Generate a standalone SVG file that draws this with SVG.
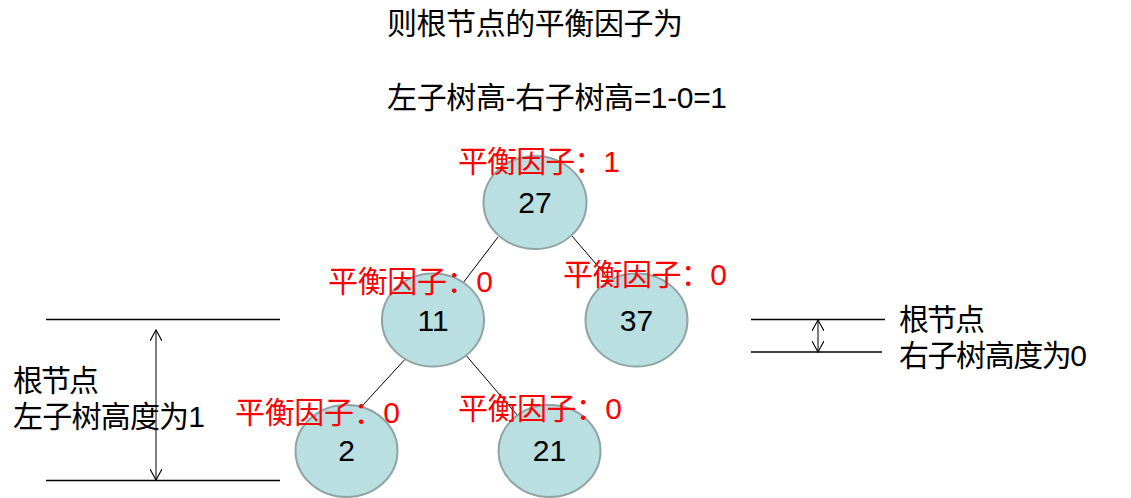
<svg xmlns="http://www.w3.org/2000/svg" width="1131" height="498" viewBox="0 0 1131 498">
<style>
text{font-family:"Liberation Sans","Noto Sans CJK SC",sans-serif;}
.t{font-size:30px;fill:#000;}
.bf{font-size:30px;fill:#ff0000;}
.num{font-size:30px;fill:#000;text-anchor:middle;}
.node ellipse{fill:#b9dfe1;stroke:#8fa3a4;stroke-width:2;}
.edge{stroke:#000;stroke-width:1;fill:none;}
.rule{stroke:#000;stroke-width:1.3;fill:none;}
</style>
<defs>
<marker id="ah" viewBox="0 0 12 12" refX="11" refY="6" markerWidth="12" markerHeight="12" markerUnits="userSpaceOnUse" orient="auto-start-reverse">
<path d="M0,0 L11,6 L0,12" fill="none" stroke="#000" stroke-width="1.1"/>
</marker>
</defs>
<rect width="1131" height="498" fill="#fff"/>
<g id="title">
<text class="t" x="387" y="34" textLength="296" lengthAdjust="spacing">则根节点的平衡因子为</text>
<text class="t" x="387" y="108" textLength="340" lengthAdjust="spacing">左子树高-右子树高=1-0=1</text>
</g>
<g id="connectors">
<line class="edge" x1="498" y1="237" x2="463" y2="283"/>
<line class="edge" x1="572" y1="236" x2="614" y2="285"/>
<line class="edge" x1="408" y1="356" x2="363" y2="405"/>
<line class="edge" x1="464" y1="353" x2="518" y2="416"/>
</g>
<g id="node-27" class="node">
<ellipse cx="535" cy="202.5" rx="51.5" ry="46.5"/>
<text class="num" x="535" y="213">27</text>
</g>
<g id="node-11" class="node">
<ellipse cx="433" cy="320" rx="51" ry="46.5"/>
<text class="num" x="433" y="331">11</text>
</g>
<g id="node-37" class="node">
<ellipse cx="636.5" cy="320" rx="51" ry="46.5"/>
<text class="num" x="636.5" y="331">37</text>
</g>
<g id="node-2" class="node">
<ellipse cx="346.5" cy="451" rx="51" ry="46"/>
<text class="num" x="346.5" y="461">2</text>
</g>
<g id="node-21" class="node">
<ellipse cx="549.5" cy="451" rx="51" ry="46"/>
<text class="num" x="549.5" y="461">21</text>
</g>
<g id="labels">
<text class="bf" x="458" y="172" textLength="162" lengthAdjust="spacing">平衡因子：1</text>
<text class="bf" x="328" y="292" textLength="165" lengthAdjust="spacing">平衡因子：0</text>
<text class="bf" x="563" y="285" textLength="164" lengthAdjust="spacing">平衡因子：0</text>
<text class="bf" x="235" y="423" textLength="165" lengthAdjust="spacing">平衡因子：0</text>
<text class="bf" x="458" y="419" textLength="164" lengthAdjust="spacing">平衡因子：0</text>
</g>
<g id="left-height">
<line class="rule" x1="46" y1="319.5" x2="280" y2="319.5"/>
<line class="rule" x1="46" y1="480.5" x2="280" y2="480.5"/>
<line class="edge" x1="156" y1="330" x2="156" y2="480" marker-start="url(#ah)" marker-end="url(#ah)"/>
<text class="t" x="13" y="391" textLength="86" lengthAdjust="spacing">根节点</text>
<text class="t" x="13" y="427" textLength="192" lengthAdjust="spacing">左子树高度为1</text>
</g>
<g id="right-height">
<line class="rule" x1="751" y1="319.5" x2="885" y2="319.5"/>
<line class="rule" x1="751" y1="352" x2="882" y2="352"/>
<line class="edge" x1="818" y1="320" x2="818" y2="352" marker-start="url(#ah)" marker-end="url(#ah)"/>
<text class="t" x="899" y="330" textLength="86" lengthAdjust="spacing">根节点</text>
<text class="t" x="899" y="366" textLength="188" lengthAdjust="spacing">右子树高度为0</text>
</g>
</svg>
